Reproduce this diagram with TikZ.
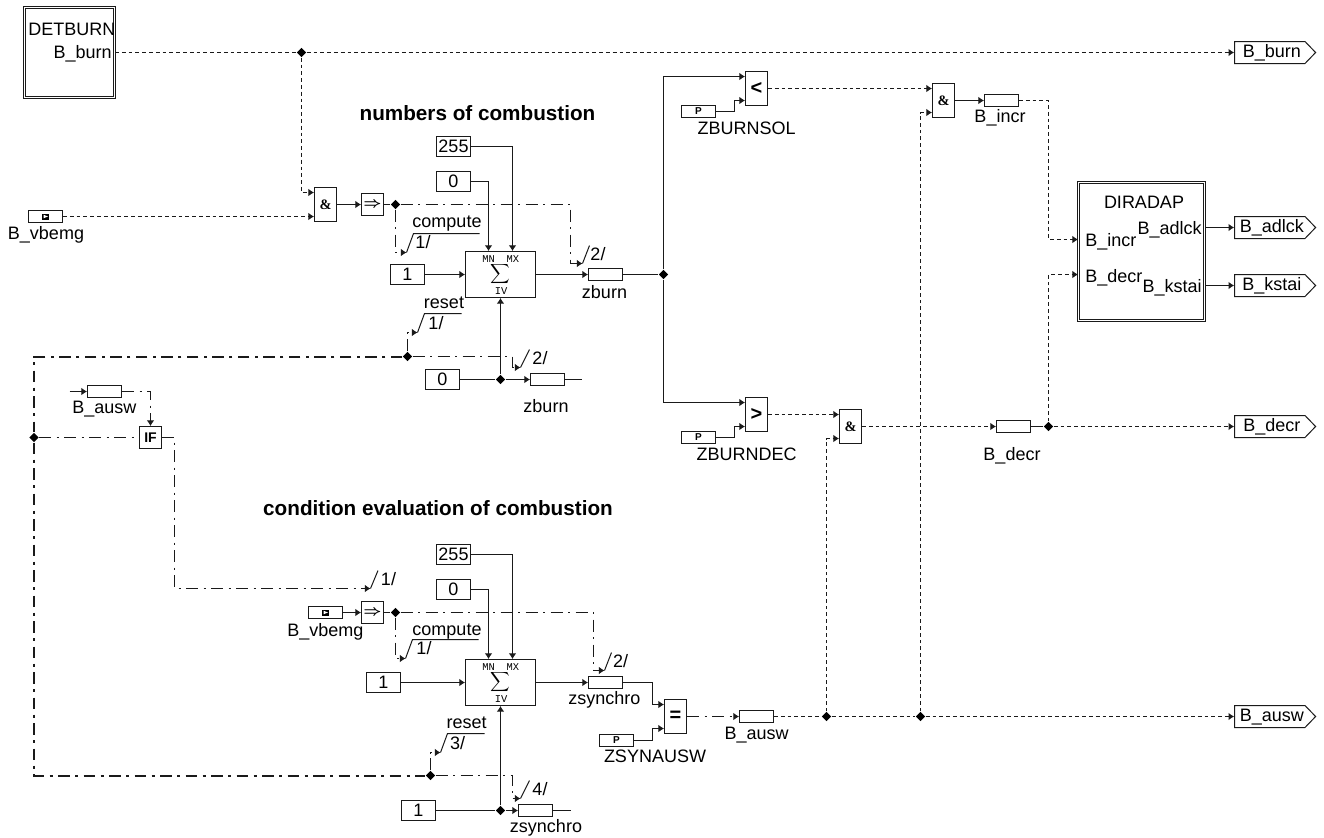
\documentclass[tikz,border=0pt]{standalone}
\usepackage{fontspec}
\setmainfont{Liberation Sans}
\newfontfamily\gatefont{Liberation Serif}
\setmonofont{Liberation Mono}
\usetikzlibrary{arrows.meta, positioning, shapes.geometric, shapes.symbols, calc}
\definecolor{wiregray}{HTML}{1A1A1A}
\tikzset{
  every node/.style={font=\fontsize{9}{10}\selectfont},
  txt/.style={inner sep=0pt, text height=6.5pt, text depth=1.5pt},
  title/.style={txt, font=\fontsize{10.35}{11}\selectfont\bfseries},
  pinlabel/.style={inner sep=0pt, font=\fontsize{5.2}{5}\selectfont\ttfamily},
  framebox/.style={draw=wiregray, line width=0.5pt, double, double distance=0.75pt, inner sep=0pt},
  varbox/.style={draw=wiregray, fill=white, line width=0.5pt, minimum width=17pt, minimum height=6pt, inner sep=0pt},
  constbox/.style={draw=wiregray, line width=0.5pt, minimum width=17pt, minimum height=10pt, inner sep=0pt},
  gatebox/.style={draw=wiregray, line width=0.5pt, minimum width=11pt, minimum height=17pt, inner sep=0pt},
  gatesign/.style={gatebox, font=\fontsize{10}{10}\selectfont\bfseries},
  gateamp/.style={gatebox, font=\gatefont\fontsize{7.2}{8}\selectfont\bfseries},
  opbox/.style={draw=wiregray, line width=0.5pt, minimum width=11pt, minimum height=11pt, inner sep=0pt},
  sumbox/.style={draw=wiregray, line width=0.5pt, minimum width=35pt, minimum height=23pt, inner sep=0pt},
  tagbox/.style={draw=wiregray, line width=0.5pt, signal, signal to=east, signal pointer angle=92,
    minimum width=40.5pt, minimum height=11pt, inner sep=0pt, text height=6.5pt, text depth=1.5pt},
  junc/.style={diamond, fill=black, inner sep=0pt, minimum size=4.8pt},
  wire/.style={draw=wiregray, line width=0.5pt, -{Latex[length=2.8pt,width=3.8pt]}},
  plainwire/.style={draw=wiregray, line width=0.5pt},
  dashwire/.style={wire, dash pattern=on 1.9pt off 1.5pt},
  dotwire/.style={wire, dash pattern=on 6pt off 2.75pt on 1pt off 2.75pt},
  resetwire/.style={plainwire, line width=1pt, dash pattern=on 5.75pt off 2.75pt on 1.5pt off 2.75pt},
}
\begin{document}
\begin{tikzpicture}[x=0.5pt, y=-0.5pt]
  \useasboundingbox (0,0) rectangle (1324,837);
  % frames
  \node[framebox, minimum width=45pt, minimum height=45pt] (detburn) at (69.5,52.5) {};
  \node[framebox, minimum width=63pt, minimum height=69pt] (diradap) at (1141.5,251.5) {};
  \node[txt, anchor=west] (detname) at (28,30) {DETBURN};
  \node[txt, anchor=east] (detout) at (112,53) {B\_burn};
  \node[txt] (dirname) at (1144,203) {DIRADAP};
  \node[txt, anchor=west] (dirinc) at (1085,241) {B\_incr};
  \node[txt, anchor=west] (dirdec) at (1085,277) {B\_decr};
  \node[txt, anchor=east] (diradl) at (1202,229) {B\_adlck};
  \node[txt, anchor=east] (dirkst) at (1202,287) {B\_kstai};
  % titles
  \node[title] (titleA) at (477.5,115.5) {numbers of combustion};
  \node[title] (titleB) at (438,510.5) {condition evaluation of combustion};
  % constants
  \foreach \n/\x/\y/\v in {maxA/453.5/146.5/255, minA/453.5/181.5/0, incA/407.5/274.5/1, rstA/442.5/379.5/0,
      maxB/453.5/554.5/255, minB/453.5/589.5/0, incB/383.5/682.5/1, rstB/418.5/810.5/1}
    \node[constbox] (\n) at (\x,\y) {\v};
  % sum blocks
  \foreach \n/\y in {sumA/274.5, sumB/682.5} {
    \node[sumbox] (\n) at (500.5,\y) {\scalebox{0.68}{$\displaystyle\sum$}};
    \node[pinlabel] (\n mn) at ([xshift=-5.9pt,yshift=-4pt]\n.north) {MN};
    \node[pinlabel] (\n mx) at ([xshift=6.2pt,yshift=-4pt]\n.north) {MX};
    \node[pinlabel] (\n iv) at ([xshift=0.3pt,yshift=3.5pt]\n.south) {IV};
  }
  % variables
  \foreach \n/\x/\y in {varZburnA/605.5/274.5, varZburnB/547.5/379.5, varIncr/1001.5/100.5, varDecr/1013.5/426.5,
      varAuswA/104.5/391.5, varAuswB/756.5/716.5, varSyncA/605.5/682.5, varSyncB/535.5/810.5}
    \node[varbox] (\n) at (\x,\y) {};
  % inputs and parameters
  \foreach \n/\x/\y in {inVbA/45.5/216.5, inVbB/325.5/612.5} {
    \node[varbox] (\n) at (\x,\y) {};
    \node[fill=black, inner sep=0pt, minimum width=3.5pt, minimum height=3pt] (\n mark) at (\n.center) {};
    \fill[white] ([xshift=-1pt,yshift=0.9pt]\n.center) -- ++(2.2pt,-0.9pt) -- ++(-2.2pt,-0.9pt) -- cycle;
  }
  \foreach \n/\x/\y in {parSol/698.5/111.5, parDec/698.5/437.5, parSyn/616.5/740.5}
    \node[varbox, font=\fontsize{5}{5}\selectfont\bfseries] (\n) at (\x,\y) {P};
  % labels
  \foreach \n/\x/\y/\t in {lbVbA/46/234.5/B\_vbemg, lbVbB/325.3/631/B\_vbemg, lbZbA/604.5/293/zburn, lbZbB/546/407/zburn,
      lbSol/746.7/129/ZBURNSOL, lbDec/746.7/455/ZBURNDEC, lbInc/1000/117/B\_incr, lbDcr/1012/455/B\_decr,
      lbAuA/104.3/408/B\_ausw, lbAuB/756.7/734.5/B\_ausw, lbSyA/604.3/699.5/zsynchro, lbSyB/546/827/zsynchro,
      lbSyn/655/757.5/ZSYNAUSW, lbCompA/447/222/compute, lbCompB/447/630/compute, lbRstA/444/303/reset, lbRstB/466.7/723.3/reset,
      one1/423/243/{1/}, one2/424/649/{1/}, one3/388.5/580/{1/}, one4/436/324/{1/}, two1/598/255/{2/}, two2/540/359/{2/},
      two3/620.7/662/{2/}, thr1/457.7/744/{3/}, fou1/540/790/{4/}}
    \node[txt] (\n) at (\x,\y) {\t};
  % gates
  \node[gateamp] (andA) at (325.5,204.5) {\&};
  \node[gatesign] (ltA) at (756.5,88.5) {<};
  \node[gatesign] (gtA) at (756.5,414.5) {>};
  \node[gateamp] (andB) at (943.5,100.5) {\&};
  \node[gateamp] (andC) at (850.5,426.5) {\&};
  \node[gatesign] (eqA) at (675.5,716.5) {=};
  \node[opbox, font=\fontsize{7.5}{8}\selectfont\boldmath] (convA) at (372.5,204.5) {$\Rightarrow$};
  \node[opbox, font=\fontsize{7.5}{8}\selectfont\boldmath] (convB) at (372.5,612.5) {$\Rightarrow$};
  \node[opbox, font=\fontsize{7}{8}\selectfont\bfseries] (ifA) at (150.5,437.5) {IF};
  % outputs
  \foreach \n/\y/\t in {tagBurn/52.5/B\_burn, tagAdlck/227.5/B\_adlck, tagKstai/285.5/B\_kstai, tagDecr/426.5/B\_decr, tagAusw/716.5/B\_ausw}
    \node[tagbox] (\n) at (1269.8,\y) {\kern2pt\t};
  % junctions
  \foreach \n/\x/\y in {junBurn/301.5/52.5, junAnd/395.5/204.5, junZb/663.5/274.5, junRstA/407.5/356.5, junIvA/500.5/379.5,
      junLeft/34/437.5, junConvB/395.5/612.5, junRstB/430.5/775.5, junIvB/500.5/810.5, junEqA/826.5/716.5, junEqB/920.5/716.5, junDcr/1048.5/426.5}
    \node[junc] (\n) at (\x,\y) {};
  % feet of the small ticks
  \foreach \n/\x/\y/\dx/\dy/\len in {footA/406.5/252.5/7/-19/66, footB/582.5/263.5/7/-18/0, footC/417.5/332.5/7/-19/37,
      footD/520.5/367.5/9/-18/0, footE/405.5/658.5/7/-19/66, footF/604.5/670.5/7/-18/0, footG/440.5/752.5/7/-19/37,
      footH/520.5/798.5/9/-18/0, footI/370.5/588.5/7.5/-18/0} {
    \coordinate (\n) at (\x,\y);
    \draw[plainwire] (\n) -- ++(\dx,\dy) -- ++(\len,0);
  }
  \coordinate (endZb) at (581.5,379.5);
  \coordinate (endSy) at (570.5,810.5);
  \coordinate (stubAu) at (69.5,391.5);
  \coordinate (kinkIncr) at (1048.5,239.5);
  % numbers of combustion
  \draw[dashwire] (detburn.east) -- (junBurn) -- (tagBurn.west);
  \draw[dashwire] (junBurn) |- ([yshift=6pt]andA.west);
  \draw[dashwire] (inVbA.east) -- ([yshift=-6pt]andA.west);
  \draw[wire] (andA.east) -- (convA.west);
  \draw[plainwire] (convA.east) -- (junAnd);
  \draw[dotwire] (junAnd) -| ($(footB)+(-12,0)$) -- (footB);
  \draw[dotwire] (junAnd) |- (footA);
  \draw[wire] (maxA.east) -| ([xshift=6pt]sumA.north);
  \draw[wire] (minA.east) -| ([xshift=-6pt]sumA.north);
  \draw[wire] (incA.east) -- (sumA.west);
  \draw[wire] (sumA.east) -- (varZburnA.west);
  \draw[plainwire] (varZburnA.east) -- (junZb);
  \draw[wire] (junIvA) -- (sumA.south);
  \draw[plainwire] (rstA.east) -- (junIvA);
  \draw[wire] (junIvA) -- (varZburnB.west);
  \draw[plainwire] (varZburnB.east) -- (endZb);
  \draw[dotwire] (junRstA) |- (footC);
  \draw[dotwire] (junRstA) -| ($(footD)+(-8,0)$) -- (footD);
  % comparators
  \draw[wire] (junZb) |- ([yshift=6pt]ltA.west);
  \draw[wire] (junZb) |- ([yshift=6pt]gtA.west);
  \draw[wire] (parSol.east) -- ++(18,0) |- ([yshift=-6pt]ltA.west);
  \draw[wire] (parDec.east) -- ++(18,0) |- ([yshift=-6pt]gtA.west);
  \draw[dashwire] (ltA.east) -- ([yshift=6pt]andB.west);
  \draw[dashwire] (gtA.east) -- ([yshift=6pt]andC.west);
  \draw[dashwire] (junEqB) |- ([yshift=-6pt]andB.west);
  \draw[dashwire] (junEqA) |- ([yshift=-6pt]andC.west);
  \draw[wire] (andB.east) -- (varIncr.west);
  \draw[dashwire] (andC.east) -- (varDecr.west);
  \draw[plainwire] (varDecr.east) -- (junDcr);
  \draw[dashwire] (junDcr) -- (tagDecr.west);
  % adaption block
  \draw[dashwire] (varIncr.east) -| (kinkIncr) -- ([yshift=6pt]diradap.west);
  \draw[dashwire] (junDcr) |- ([yshift=-11.5pt]diradap.west);
  \draw[wire] ([yshift=12pt]diradap.east) -- (tagAdlck.west);
  \draw[wire] ([yshift=-17pt]diradap.east) -- (tagKstai.west);
  % reset path
  \draw[resetwire] (junRstA) -| (junLeft) |- (junRstB);
  \draw[wire] (stubAu) -- (varAuswA.west);
  \draw[dotwire] (varAuswA.east) -| (ifA.north);
  \draw[dotwire, -] (junLeft) -- (ifA.west);
  \draw[dotwire] (ifA.east) -| ($(footI)+(-196,0)$) -- (footI);
  % condition evaluation
  \draw[wire] (inVbB.east) -- (convB.west);
  \draw[plainwire] (convB.east) -- (junConvB);
  \draw[dotwire] (junConvB) -| ($(footF)+(-11,0)$) -- (footF);
  \draw[dotwire] (junConvB) |- (footE);
  \draw[wire] (maxB.east) -| ([xshift=6pt]sumB.north);
  \draw[wire] (minB.east) -| ([xshift=-6pt]sumB.north);
  \draw[wire] (incB.east) -- (sumB.west);
  \draw[wire] (sumB.east) -- (varSyncA.west);
  \draw[wire] (varSyncA.east) -- ++(29,0) |- ([yshift=6pt]eqA.west);
  \draw[wire] (parSyn.east) -- ++(18,0) |- ([yshift=-6pt]eqA.west);
  \draw[plainwire] (rstB.east) -- (junIvB);
  \draw[wire] (junIvB) -- (sumB.south);
  \draw[wire] (junIvB) -- (varSyncB.west);
  \draw[plainwire] (varSyncB.east) -- (endSy);
  \draw[dotwire] (junRstB) |- (footG);
  \draw[dotwire] (junRstB) -| ($(footH)+(-8,0)$) -- (footH);
  % result
  \draw[dotwire] (eqA.east) -- (varAuswB.west);
  \draw[dashwire, -] (varAuswB.east) -- (junEqA) -- (junEqB);
  \draw[dashwire] (junEqB) -- (tagAusw.west);
\end{tikzpicture}
\end{document}
